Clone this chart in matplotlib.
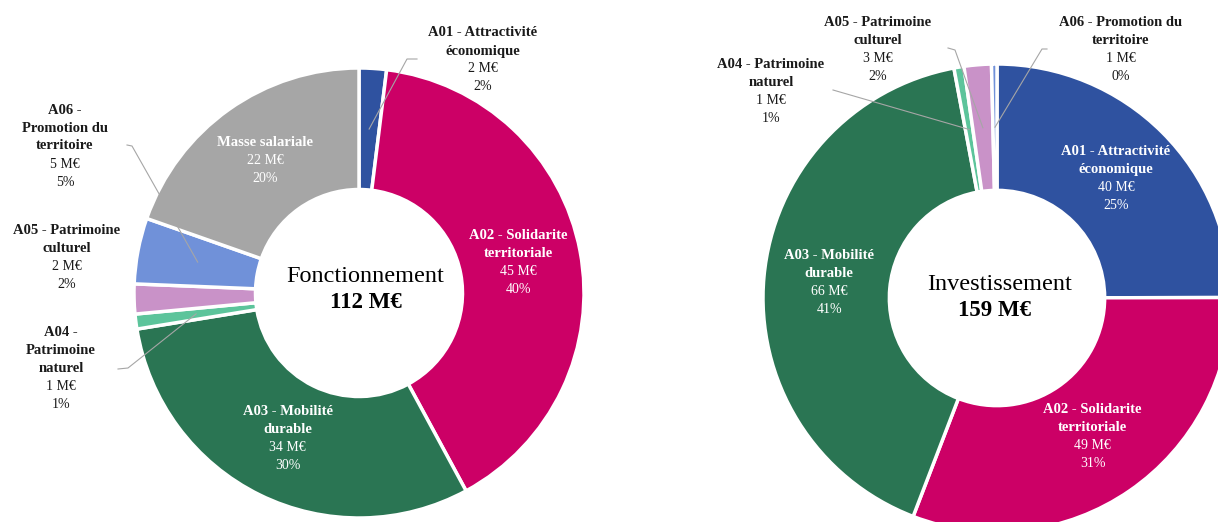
import matplotlib.pyplot as plt
from matplotlib.lines import Line2D
import numpy as np

W, H = 1218, 522
plt.rcParams['font.family'] = ['Liberation Serif', 'DejaVu Serif']

# Données - Fonctionnement
fonct_noms = ["A01 - Attractivité\néconomique", "A02 - Solidarite\nterritoriale",
              "A03 - Mobilité\ndurable", "A04 -\nPatrimoine\nnaturel",
              "A05 - Patrimoine\nculturel", "A06 -\nPromotion du\nterritoire",
              "Masse salariale"]
fonct_valeurs = [2.2, 45, 34, 1.2, 2.4, 5.3, 22]

# Données - Investissement
invest_noms = ["A01 - Attractivité\néconomique", "A02 - Solidarite\nterritoriale",
               "A03 - Mobilité\ndurable", "A04 - Patrimoine\nnaturel",
               "A05 - Patrimoine\nculturel", "A06 - Promotion du\nterritoire"]
invest_valeurs = [39.8, 49.2, 65.7, 1.1, 3.0, 0.6]

couleurs = {"A01": "#2F52A0", "A02": "#CC0066", "A03": "#2A7553", "A04": "#5CC49B",
            "A05": "#C992C8", "A06": "#7091D9", "Masse": "#A6A6A6"}

fig = plt.figure(figsize=(W / 100, H / 100), dpi=100)


def px(x, y):
    return x / W, 1 - y / H


def bloc(x, y, nom, valeur, pct, couleur, pas=18):
    lignes = nom.split("\n")
    for i, l in enumerate(lignes):
        fig.text(*px(x, y + i * pas), l, ha='center', va='center', fontsize=10.5,
                 fontweight='bold', color=couleur)
    n = len(lignes)
    fig.text(*px(x, y + n * pas), f"{valeur:.0f} M€", ha='center', va='center',
             fontsize=10, color=couleur)
    fig.text(*px(x, y + (n + 1) * pas), f"{pct:.0f}%", ha='center', va='center',
             fontsize=10, color=couleur)


def donut(cx, cy, r, noms, valeurs, interieur, exterieur):
    ax = fig.add_axes([(cx - r) / W, (H - cy - r) / H, 2 * r / W, 2 * r / H])
    cols = [couleurs[n.split(" ")[0]] for n in noms]
    wedges, _ = ax.pie(valeurs, colors=cols, startangle=90, counterclock=False,
                       wedgeprops=dict(width=0.54, edgecolor='white', linewidth=2.5))
    ax.set_xlim(-1, 1)
    ax.set_ylim(-1, 1)
    ax.set_aspect('equal')
    ax.axis('off')
    total = sum(valeurs)

    def point(i, rr):
        a = np.deg2rad((wedges[i].theta1 + wedges[i].theta2) / 2)
        x, y = ax.transData.transform((rr * np.cos(a), rr * np.sin(a)))
        return x, H - y

    for i in interieur:
        x, y = point(i, 0.72)
        n = len(noms[i].split("\n")) + 2
        bloc(x, y - (n - 1) * 18 / 2, noms[i], valeurs[i], valeurs[i] / total * 100,
             'white', pas=18)
    for i, (x, y, ligne) in exterieur.items():
        bloc(x, y, noms[i], valeurs[i], valeurs[i] / total * 100, '#1a1a1a')
        if ligne:
            pts = ligne + [point(i, 0.73)]
            xs = [p[0] / W for p in pts]
            ys = [1 - p[1] / H for p in pts]
            fig.add_artist(Line2D(xs, ys, color='#A6A6A6', lw=0.8))
    return total


# Fonctionnement
total_f = donut(359, 293, 225, fonct_noms, fonct_valeurs, [1, 2, 6],
                {0: (483, 33, [(417, 59), (407, 59)]),
                 3: (61, 333, [(118, 369), (128, 368)]),
                 4: (67, 231, None),
                 5: (65, 110, [(127, 145), (132, 146)])})
fig.text(*px(365, 277), "Fonctionnement", ha='center', va='center', fontsize=17.5)
fig.text(*px(366, 302), f"{total_f:.0f} M€", ha='center', va='center', fontsize=16.5,
         fontweight='bold')

# Investissement
total_i = donut(997, 298, 234, invest_noms, invest_valeurs, [0, 1, 2],
                {3: (771, 65, [(833, 90)]),
                 4: (878, 23, [(948, 48), (955, 50)]),
                 5: (1121, 23, [(1047, 49), (1042, 49)])})
fig.text(*px(1000, 285), "Investissement", ha='center', va='center', fontsize=17.5)
fig.text(*px(994, 311), f"{total_i:.0f} M€", ha='center', va='center', fontsize=16.5,
         fontweight='bold')

fig.savefig("out.png", dpi=100)
